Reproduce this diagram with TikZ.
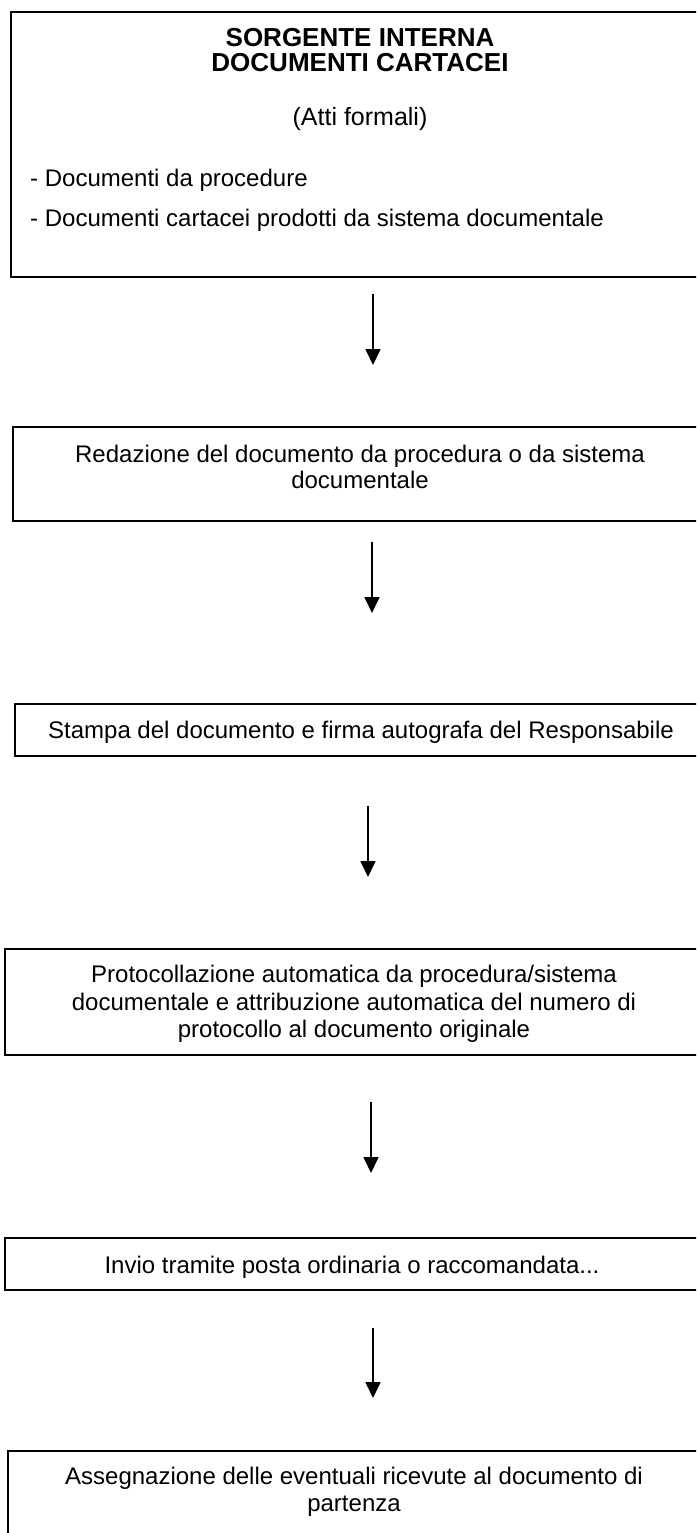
\documentclass[tikz,border=0pt]{standalone}
\usepackage{fontspec}
\setmainfont{Liberation Sans}
\usetikzlibrary{arrows.meta}
\begin{document}
\begin{tikzpicture}[x=1pt,y=-1pt,
  box/.style={draw=black, line width=1.6pt, rectangle, inner sep=0pt},
  txt/.style={inner sep=0pt, anchor=base, font=\fontsize{24}{27.6}\selectfont},
  lefttxt/.style={txt, anchor=base west},
  title/.style={inner sep=0pt, anchor=base, font=\fontsize{26}{28}\selectfont\bfseries},
  arr/.style={line width=1.7pt, -{Triangle[width=15pt,length=16pt]}}]
\useasboundingbox (0,0) rectangle (696,1533);
\clip (0,0) rectangle (696,1533);
% boxes
\node[box, minimum width=698pt, minimum height=265pt] (b1) at (360,144.5) {};
\node[box, minimum width=694pt, minimum height=94pt]  (b2) at (360,474) {};
\node[box, minimum width=692pt, minimum height=52pt]  (b3) at (361,730) {};
\node[box, minimum width=698pt, minimum height=106pt] (b4) at (354,1002) {};
\node[box, minimum width=694pt, minimum height=52pt]  (b5) at (352,1264) {};
\node[box, minimum width=692pt, minimum height=109pt] (b6) at (354,1505.5) {};
% texts
\node[title] (t1a) at (360,47) {SORGENTE INTERNA};
\node[title] (t1b) at (360,72) {DOCUMENTI CARTACEI};
\node[txt, font=\fontsize{25}{28}\selectfont] (t1c) at (360,126) {(Atti formali)};
\node[lefttxt] (t1d) at (30,187) {- Documenti da procedure};
\node[lefttxt] (t1e) at (30,226) {- Documenti cartacei prodotti da sistema documentale};
\node[txt] (t2a) at (360,462) {Redazione del documento da procedura o da sistema};
\node[txt] (t2b) at (360,488) {documentale};
\node[txt] (t3) at (361,738) {Stampa del documento e firma autografa del Responsabile};
\node[txt] (t4a) at (354,982) {Protocollazione automatica da procedura/sistema};
\node[txt] (t4b) at (354,1010) {documentale e attribuzione automatica del numero di};
\node[txt] (t4c) at (354,1037) {protocollo al documento originale};
\node[txt] (t5) at (352,1273) {Invio tramite posta ordinaria o raccomandata...};
\node[txt] (t6a) at (354,1484) {Assegnazione delle eventuali ricevute al documento di};
\node[txt] (t6b) at (354,1511) {partenza};
% arrows
\coordinate (a1s) at (373,294);  \coordinate (a1e) at (373,365);
\coordinate (a2s) at (372,542);  \coordinate (a2e) at (372,613);
\coordinate (a3s) at (368,806);  \coordinate (a3e) at (368,877);
\coordinate (a4s) at (371,1102); \coordinate (a4e) at (371,1173);
\coordinate (a5s) at (373,1328); \coordinate (a5e) at (373,1398);
\draw[arr] (a1s) -- (a1e);
\draw[arr] (a2s) -- (a2e);
\draw[arr] (a3s) -- (a3e);
\draw[arr] (a4s) -- (a4e);
\draw[arr] (a5s) -- (a5e);
\end{tikzpicture}
\end{document}
